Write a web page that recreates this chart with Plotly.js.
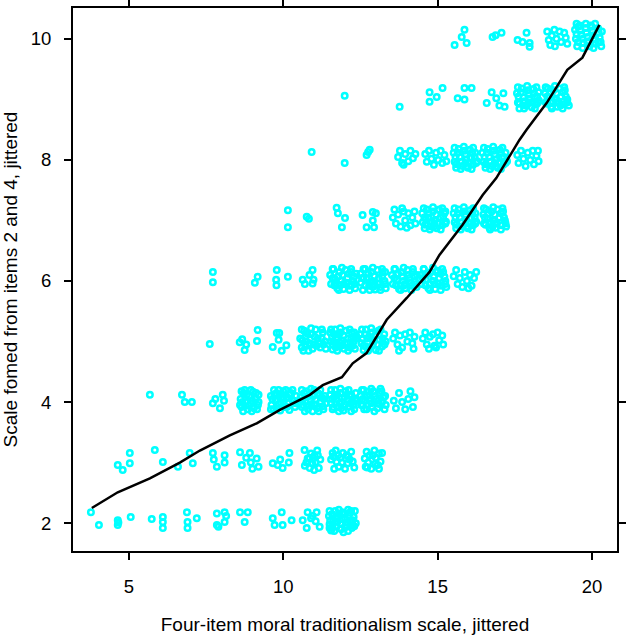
<!DOCTYPE html>
<html>
<head>
<meta charset="utf-8">
<script src="https://cdn.plot.ly/plotly-3.0.1.min.js"></script>
<style>html,body{margin:0;padding:0;background:#fff}#chart{width:632px;height:635px}</style>
</head>
<body>
<div id="chart"></div>
<script>
// Jittered observations, grouped by the (unjittered) y level
const x2 = [3.77,4.03,4.64,4.64,4.66,5.06,5.74,6.1,6.1,6.1,6.88,6.9,6.9,7.2,7.85,7.85,7.9,8.1,8.1,8.15,8.6,8.85,8.75,9.66,9.72,9.95,9.98,10.27,10.63,10.79,10.76,11.08,11.05,11.18,10.9,10.95,
  11.48,11.5,11.55,11.62,11.68,11.7,11.78,11.85,11.88,11.92,12.0,12.05,12.1,12.12,12.18,12.22,12.28,12.32,12.35,11.58,11.95,12.25,
  11.6,11.75,11.82,12.0,12.15,12.25,11.52,12.08,11.7,11.9];
const y2 = [2.18,1.97,2.05,1.97,2.01,2.1,2.07,2.1,2.02,1.92,2.18,2.02,1.92,2.08,2.16,1.97,1.94,2.18,2.02,2.12,2.18,2.18,2.02,2.08,1.97,2.18,1.97,2.05,2.05,2.18,1.92,2.18,2.03,1.94,2.08,2.12,
  2.12,1.98,1.88,2.05,2.2,1.95,2.1,2.0,1.9,2.18,2.08,1.97,2.22,2.13,2.02,1.92,2.1,2.2,2.0,2.15,1.85,2.05,
  1.93,2.02,2.15,1.93,2.17,1.97,2.05,2.02,2.1,2.07];

const x3 = [4.64,4.8,5.03,5.03,5.84,6.1,6.59,6.97,7.07,7.72,7.85,8.1,8.1,7.75,8.6,8.66,8.92,8.95,9.14,9.2,8.8,9.0,9.66,9.82,9.98,10.2,10.18,9.9,
  10.69,10.79,10.86,11.12,11.15,11.05,10.7,10.9,11.2,10.75,11.0,11.1,10.85,11.02,10.95,
  11.6,11.73,11.8,11.93,12.09,12.1,11.55,11.65,11.85,12.0,12.2,12.25,12.3,11.7,12.15,11.62,11.9,12.05,11.78,
  12.64,12.67,12.9,13.06,13.2,12.75,12.85,13.0,13.15,12.7,13.1,12.95,12.8,12.98,13.1,12.72];
const y3 = [2.96,2.88,3.16,2.99,3.21,3.01,2.93,3.16,2.99,3.16,2.93,3.12,3.0,3.05,3.17,2.96,3.16,3.0,3.07,2.93,3.08,2.9,2.99,2.96,2.91,3.16,3.0,3.05,
  3.21,3.07,2.91,3.12,2.91,3.0,2.95,3.15,3.05,3.0,2.88,3.2,3.08,3.12,2.98,
  3.16,3.01,2.93,3.16,2.99,3.1,3.05,2.9,3.08,2.9,3.18,3.02,2.92,3.2,3.05,3.1,3.0,3.12,3.12,
  3.07,2.93,3.12,2.96,3.16,3.0,2.9,3.08,3.02,3.18,2.9,3.2,3.12,2.98,3.15,2.92];

const x4 = [5.68,6.72,6.81,7.04,7.72,7.95,8.04,8.08,7.8,
  8.62,8.65,8.72,8.78,8.85,8.9,8.95,9.02,9.05,9.1,9.18,9.2,8.7,8.68,8.82,8.88,9.0,9.12,9.15,8.75,
  9.6,9.62,9.7,9.75,9.8,9.88,9.92,10.0,10.05,10.1,10.18,10.25,10.3,10.38,10.42,9.68,9.65,9.78,9.85,9.97,10.12,10.2,10.35,10.08,
  10.56,10.6,10.68,10.72,10.8,10.85,10.92,11.0,11.05,11.1,11.18,11.22,11.3,11.35,11.38,10.95,10.62,10.75,10.88,11.02,11.12,11.25,10.7,11.28,
  11.52,11.55,11.6,11.68,11.72,11.78,11.85,11.9,11.95,12.02,12.08,12.12,12.2,12.25,12.3,12.35,12.37,11.65,11.58,11.75,11.82,11.98,12.15,12.18,12.32,11.88,
  12.5,12.52,12.6,12.65,12.7,12.8,12.85,12.92,13.0,13.05,13.12,13.2,13.28,13.3,12.75,12.57,12.72,12.88,12.97,13.1,13.25,12.62,13.18,
  13.58,13.65,13.75,13.85,13.95,14.05,14.12,14.2,14.25];
const y4 = [4.12,4.12,4.0,4.0,3.98,3.9,4.12,4.02,4.05,
  4.05,3.92,4.15,4.0,3.88,4.1,3.98,4.17,3.9,4.05,3.95,4.12,3.85,4.0,4.12,3.94,4.02,4.15,3.88,4.2,
  4.1,3.95,4.2,4.02,3.9,4.12,4.0,4.18,3.92,4.08,3.98,4.15,4.03,3.92,4.1,3.88,4.05,4.15,3.97,4.08,3.92,4.12,4.02,4.2,
  4.08,3.92,4.15,4.0,3.88,4.1,3.97,4.2,4.05,3.9,4.12,4.0,3.88,4.1,3.98,3.85,4.03,4.18,4.04,3.95,4.15,4.07,3.85,3.93,
  4.12,3.98,3.88,4.2,4.05,3.92,4.15,4.0,3.86,4.18,4.05,3.93,4.12,4.0,3.88,4.15,4.03,4.08,4.05,4.12,3.98,4.08,4.1,3.98,4.05,3.9,
  4.1,3.95,4.2,4.02,3.88,4.12,3.98,4.18,4.05,3.9,4.15,4.0,3.88,4.1,4.17,4.05,4.1,3.92,4.1,3.97,4.07,3.88,4.18,
  4.02,3.9,4.15,4.0,3.88,4.05,4.18,3.92,4.08];

const x5 = [7.62,8.59,8.67,8.75,8.8,9.17,9.15,9.66,9.79,9.87,10.1,9.85,9.95,
  10.55,10.6,10.68,10.75,10.82,10.9,10.98,11.05,11.12,11.2,11.28,11.35,11.38,10.72,10.62,10.78,10.86,11.02,11.15,11.25,10.95,
  11.52,11.55,11.6,11.68,11.72,11.8,11.85,11.9,11.97,12.03,12.1,12.15,12.22,12.28,12.32,12.36,11.63,12.0,11.58,11.75,11.85,11.95,12.08,12.2,12.3,11.7,
  12.5,12.53,12.6,12.68,12.72,12.8,12.88,12.93,13.0,13.08,13.12,13.2,13.27,13.32,12.78,12.57,12.65,12.85,12.97,13.05,13.22,12.68,
  13.56,13.62,13.7,13.78,13.85,13.95,14.02,14.1,14.18,14.25,13.75,14.22,
  14.52,14.6,14.65,14.75,14.85,14.9,15.0,15.05,15.15,15.18,14.72,14.95];
const y5 = [4.96,4.99,5.04,4.86,4.95,5.19,5.01,4.91,5.14,5.14,4.94,5.03,4.85,
  5.05,4.9,5.18,5.0,4.85,5.12,4.95,5.2,5.05,4.9,5.15,5.0,4.88,5.08,5.02,5.13,4.97,5.08,4.97,5.05,4.88,
  5.15,5.0,4.87,5.2,5.07,4.93,5.15,5.02,4.88,5.18,5.05,4.9,5.15,5.0,4.88,5.1,5.0,4.97,5.08,5.12,4.98,5.1,4.97,5.05,5.15,4.9,
  5.12,4.97,4.86,5.2,5.05,4.9,5.15,5.0,4.86,5.18,5.03,4.92,5.12,5.0,5.08,5.05,5.12,5.05,5.1,4.95,5.05,4.92,
  5.05,5.15,4.95,5.1,4.9,5.12,5.0,5.15,4.97,5.08,4.85,4.88,
  5.05,5.15,4.95,5.08,5.12,4.93,5.15,5.02,5.1,4.95,4.88,4.9];

const x6 = [7.72,7.72,9.08,9.17,9.79,9.77,9.78,10.15,10.63,10.95,10.98,10.95,10.7,10.85,
  11.52,11.55,11.62,11.68,11.75,11.82,11.88,11.95,12.02,12.08,12.15,12.2,12.27,12.33,12.36,11.7,11.6,11.78,11.92,12.05,12.12,12.3,11.85,12.22,
  12.5,12.52,12.58,12.65,12.7,12.78,12.85,12.9,12.97,13.05,13.1,13.15,13.22,13.28,13.32,12.6,12.55,12.75,12.82,12.95,13.08,13.2,13.3,12.9,
  13.52,13.55,13.62,13.68,13.75,13.82,13.88,13.95,14.02,14.08,14.15,14.2,14.27,14.32,14.33,13.6,13.72,13.85,13.92,14.05,14.12,14.25,13.8,
  14.45,14.48,14.55,14.62,14.7,14.78,14.85,14.92,15.0,15.05,15.12,15.18,15.25,15.28,14.52,14.68,14.75,14.88,15.02,15.1,15.22,14.95,
  15.52,15.6,15.65,15.72,15.8,15.88,15.95,16.05,16.1,16.18,16.25,16.0];
const y6 = [6.15,5.98,5.97,6.07,6.18,6.02,5.93,6.07,6.02,6.18,6.02,5.96,5.95,6.1,
  6.1,5.95,6.2,6.03,5.88,6.15,6.0,5.87,6.18,6.05,5.92,6.15,6.0,5.88,6.12,5.97,6.05,6.08,6.1,5.97,6.12,6.07,5.93,5.93,
  6.12,5.97,5.85,6.2,6.05,5.92,6.15,6.0,5.86,6.18,6.05,5.9,6.15,6.0,5.88,6.05,6.05,6.12,5.98,6.08,5.95,6.07,6.15,5.9,
  6.1,5.95,6.2,6.02,5.87,6.15,6.0,5.88,6.18,6.05,5.92,6.15,6.0,5.9,6.1,6.05,6.12,6.07,5.93,6.1,5.97,6.08,5.92,
  6.1,5.95,6.2,6.03,5.88,6.15,6.0,5.87,6.17,6.05,5.92,6.15,6.0,5.9,6.05,6.12,5.95,6.08,5.95,6.12,6.07,6.15,
  6.08,6.18,5.95,6.05,5.9,6.15,6.0,6.1,5.92,6.05,6.15,5.88];

const x7 = [10.15,10.15,10.76,10.83,11.73,12.0,11.9,11.77,12.57,12.7,12.9,12.94,13.0,12.9,
  13.55,13.6,13.65,13.72,13.8,13.9,13.95,14.05,14.12,14.18,14.25,14.28,13.85,14.0,
  14.5,14.52,14.58,14.65,14.7,14.78,14.85,14.9,14.97,15.05,15.1,15.15,15.22,15.27,14.62,14.57,14.72,14.82,14.95,15.02,15.18,15.25,14.88,
  15.52,15.55,15.6,15.68,15.72,15.8,15.87,15.92,15.98,16.05,16.1,16.15,16.22,16.25,15.58,15.65,15.78,15.9,16.02,16.12,16.2,15.95,
  16.48,16.5,16.57,16.62,16.68,16.75,16.8,16.88,16.95,17.0,17.07,17.12,17.18,17.22,16.53,16.65,16.72,16.85,16.92,17.05,17.15,16.78];
const y7 = [7.17,6.89,7.06,7.03,7.21,7.04,6.89,7.12,7.09,6.89,7.14,6.89,7.12,7.0,
  7.05,7.18,6.95,7.1,6.9,7.15,7.0,7.12,6.92,7.05,7.15,6.95,7.2,6.88,
  7.12,6.97,6.87,7.18,7.05,6.9,7.15,7.0,6.87,7.18,7.05,6.92,7.12,6.98,7.02,7.05,7.12,6.97,7.1,6.95,7.07,7.15,6.9,
  7.12,6.97,6.87,7.18,7.05,6.9,7.15,7.0,6.87,7.17,7.04,6.92,7.12,6.98,7.05,7.12,6.97,7.1,6.95,7.12,7.05,6.9,
  7.1,6.95,7.18,7.03,6.88,7.15,7.0,6.88,7.18,7.05,6.92,7.15,7.0,6.9,7.05,7.12,6.97,7.1,6.95,7.12,7.05,6.9];

const x8 = [10.92,11.99,12.7,12.75,12.8,
  13.72,13.78,13.85,13.95,14.05,14.12,14.2,14.28,13.9,
  14.6,14.65,14.72,14.8,14.88,14.95,15.02,15.1,15.15,15.22,15.28,
  15.52,15.55,15.6,15.68,15.72,15.8,15.87,15.92,15.98,16.05,16.1,16.15,16.22,16.28,15.58,15.65,15.78,15.9,16.02,16.12,16.2,15.95,
  16.45,16.48,16.55,16.62,16.67,16.75,16.82,16.88,16.95,17.02,17.08,17.13,17.2,17.25,16.52,16.6,16.72,16.85,16.98,17.05,17.15,16.9,
  17.58,17.62,17.7,17.78,17.85,17.92,18.0,18.08,18.12,18.2,18.27,18.25];
const y8 = [8.13,7.95,8.08,8.13,8.17,
  8.05,8.15,7.95,8.1,7.98,8.15,8.03,8.1,7.92,
  8.1,7.97,8.15,8.02,7.92,8.12,8.0,8.15,7.95,8.08,7.98,
  8.12,7.97,7.87,8.18,8.05,7.9,8.15,8.0,7.87,8.17,8.04,7.92,8.12,7.98,8.05,8.12,7.97,8.1,7.95,8.12,8.05,7.9,
  8.12,7.97,7.87,8.18,8.05,7.9,8.15,8.0,7.87,8.17,8.04,7.92,8.12,7.98,8.05,8.12,7.97,8.1,7.95,8.12,8.05,7.9,
  8.08,7.95,8.15,8.02,7.9,8.12,8.0,8.15,7.93,8.07,7.98,8.15];

const x9 = [11.99,13.77,14.74,14.74,14.97,15.16,15.65,15.87,16.1,15.87,16.59,16.75,16.9,17.0,17.17,17.13,
  17.57,17.6,17.65,17.72,17.78,17.85,17.92,17.98,18.05,18.1,18.15,18.2,18.27,18.28,17.62,17.7,17.82,17.95,18.02,18.12,18.22,17.88,
  18.48,18.5,18.57,18.62,18.68,18.75,18.8,18.88,18.95,19.0,19.07,19.12,19.2,19.25,18.55,18.65,18.72,18.85,18.92,19.05,19.15,18.98];
const y9 = [9.06,8.88,9.12,8.96,9.04,9.19,9.02,9.19,9.19,9.0,8.94,9.12,9.02,8.9,8.88,9.1,
  9.1,8.95,8.85,9.18,9.03,8.9,9.15,9.0,8.87,9.17,9.04,8.92,9.12,8.98,9.05,9.12,8.97,9.1,8.95,9.1,9.05,8.9,
  9.1,8.95,9.18,9.03,8.88,9.15,9.0,8.88,9.18,9.05,8.92,9.15,9.0,8.9,9.05,9.12,8.97,9.1,8.95,9.12,9.05,8.9];

const x10 = [15.87,15.78,15.94,15.55,16.78,17.07,16.88,17.59,17.88,17.98,17.98,17.75,
  18.55,18.6,18.7,18.78,18.65,18.85,18.95,19.0,19.1,19.2,18.8,19.15,
  19.45,19.48,19.52,19.6,19.65,19.72,19.8,19.85,19.92,20.0,20.05,20.12,20.2,20.25,20.3,20.32,19.55,
  19.5,19.62,19.7,19.82,19.9,20.02,20.1,20.22,20.28,19.95];
const y10 = [10.15,10.03,9.93,9.9,10.03,10.1,10.06,9.98,10.1,9.93,9.87,9.95,
  10.12,9.98,10.05,10.15,9.9,10.0,10.12,9.95,10.1,9.92,9.88,10.02,
  10.15,10.0,9.88,10.22,10.07,9.93,10.18,10.03,9.88,10.2,10.06,9.92,10.17,10.02,9.88,10.12,10.2,
  10.08,10.14,10.0,10.1,9.96,10.13,10.0,10.1,9.95,10.22];

// Further observations inside the densest (overplotted) cells
const denseX = [11.5,11.8,12.2,11.65,12.1,12.3,11.5,11.98,
  9.6,9.9,10.2,9.72,10.0,10.4,9.85,10.3,
  10.6,10.9,11.2,10.65,10.98,11.32,11.15,10.82,
  11.55,11.85,12.12,11.62,12.0,12.28,11.7,12.05,11.8,12.2,
  12.55,12.85,13.15,12.58,12.8,13.08,13.32,12.95,
  8.65,8.95,9.2,8.6,8.98,
  11.55,11.85,12.15,11.6,11.92,12.25,11.75,12.1,11.65,12.35,
  12.55,12.85,13.15,12.6,12.9,13.28,12.75,13.1,
  10.6,10.9,11.25,10.7,11.08,11.3,10.65,
  11.6,11.9,12.2,11.65,11.95,12.3,11.8,12.15,
  12.6,12.9,13.2,12.65,12.95,13.3,12.8,13.15,
  13.6,13.9,14.2,13.65,13.95,14.3,13.8,14.15,
  14.55,14.85,15.15,14.6,14.9,15.25,14.75,15.1,
  14.55,14.85,15.15,14.6,14.9,15.25,14.75,15.1,
  15.55,15.85,16.15,15.6,15.9,16.22,15.75,16.1,
  16.5,16.8,17.1,16.55,16.85,17.2,16.7,17.05,
  15.55,15.85,16.15,15.6,15.9,16.25,15.75,16.1,
  16.5,16.8,17.1,16.55,16.85,17.2,16.7,17.05,
  17.6,17.9,18.2,17.65,17.95,18.25,17.8,18.15,
  18.5,18.8,19.1,18.55,18.85,19.2,18.7,19.05,
  19.5,19.8,20.1,19.55,19.85,20.2,19.7,20.05];
const denseY = [2.2,2.22,2.2,1.87,1.87,1.95,1.92,2.15,
  3.88,3.86,3.87,4.12,4.05,3.98,4.2,4.2,
  4.2,4.22,4.2,3.95,4.1,4.05,3.85,3.94,
  4.2,4.22,4.2,3.92,3.95,3.95,4.12,4.12,3.85,3.85,
  4.2,4.22,4.22,3.95,4.02,4.02,3.95,3.85,
  4.18,4.2,4.0,3.95,3.85,
  5.2,5.22,5.2,4.95,4.94,4.93,4.85,4.85,5.12,5.05,
  5.2,5.22,5.2,4.93,4.95,4.95,4.85,4.85,
  5.2,5.22,5.2,4.95,4.93,4.95,4.85,
  6.2,6.22,6.2,5.93,5.95,5.95,5.85,5.85,
  6.2,6.22,6.2,5.93,5.95,5.95,5.85,5.85,
  6.2,6.22,6.2,5.93,5.95,5.95,5.85,5.85,
  6.2,6.22,6.2,5.93,5.95,5.95,5.85,5.85,
  7.2,7.22,7.2,6.93,6.95,6.95,6.85,6.85,
  7.2,7.22,7.2,6.93,6.95,6.95,6.85,6.85,
  7.2,7.22,7.2,6.93,6.95,6.95,6.85,6.85,
  8.2,8.22,8.2,7.93,7.95,7.95,7.85,7.85,
  8.2,8.22,8.2,7.93,7.95,7.95,7.85,7.85,
  9.2,9.22,9.2,8.93,8.95,8.95,8.85,8.85,
  9.2,9.22,9.2,8.93,8.95,8.95,8.85,8.85,
  10.25,10.25,10.25,9.95,9.95,9.95,9.85,9.85];

// Loess smoother
const smoothX = [3.8,4.64,5.68,6.65,7.3,8.27,9.14,9.89,10.86,11.28,11.9,12.25,12.7,13.35,14.0,14.74,15.06,15.81,16.46,16.9,17.65,17.88,18.53,19.2,19.69,20.24];
const smoothY = [2.25,2.51,2.74,3.0,3.2,3.45,3.65,3.87,4.12,4.28,4.41,4.64,4.81,5.36,5.72,6.15,6.43,6.93,7.42,7.7,8.33,8.5,8.94,9.49,9.69,10.23];

const xTicks = [5,10,15,20];
const yTicks = [2,4,6,8,10];
const xTitle = "Four-item moral traditionalism scale, jittered";
const yTitle = "Scale fomed from items 2 and 4, jittered";

const allX = [].concat(x2,x3,x4,x5,x6,x7,x8,x9,x10,denseX);
const allY = [].concat(y2,y3,y4,y5,y6,y7,y8,y9,y10,denseY);

const FONT = 'Liberation Sans, Arial, sans-serif';

const traces = [
  {x: allX, y: allY, type: 'scatter', mode: 'markers', hoverinfo: 'skip',
   marker: {symbol: 'circle-open', size: 5.5, color: '#00FFFF', line: {width: 2.5, color: '#00FFFF'}}},
  {x: smoothX, y: smoothY, type: 'scatter', mode: 'lines', hoverinfo: 'skip',
   line: {color: '#000000', width: 2.5}}
];

const axisCommon = {
  showgrid: false, zeroline: false, showline: true, mirror: 'ticks',
  linecolor: '#000', linewidth: 2, ticks: 'outside', ticklen: 7, tickwidth: 2, tickcolor: '#000',
  tickfont: {family: FONT, size: 18.5, color: '#000'}
};

const layout = {
  width: 632, height: 635,
  margin: {l: 73, r: 15, t: 8, b: 84},
  paper_bgcolor: '#fff', plot_bgcolor: '#fff',
  showlegend: false,
  xaxis: Object.assign({}, axisCommon, {
    range: [3.19, 20.81], tickvals: xTicks, ticktext: xTicks.map(String),
    ticklabelstandoff: 11,
    title: {text: xTitle, standoff: 22, font: {family: FONT, size: 19, color: '#000'}}
  }),
  yaxis: Object.assign({}, axisCommon, {
    range: [1.54, 10.51], tickvals: yTicks, ticktext: yTicks.map(String),
    ticklabelstandoff: 9,
    title: {text: yTitle, standoff: 12, font: {family: FONT, size: 19, color: '#000'}}
  })
};

Plotly.newPlot('chart', traces, layout, {displayModeBar: false, staticPlot: true});
</script>
</body>
</html>
